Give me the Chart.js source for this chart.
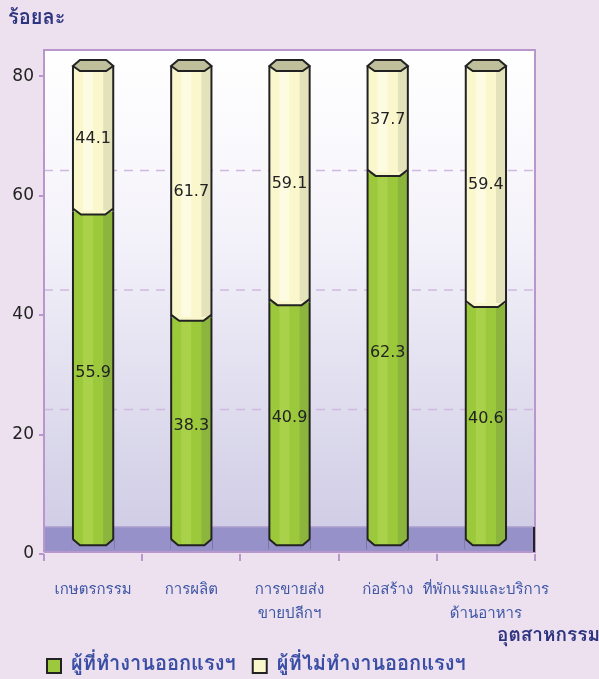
<!DOCTYPE html>
<html>
<head>
<meta charset="utf-8">
<script src="https://cdn.jsdelivr.net/npm/chart.js@4.4.1/dist/chart.umd.min.js"></script>
<style>
  html, body { margin: 0; padding: 0; background: #ede1ef; }
  #wrap { width: 599px; height: 679px; }
</style>
</head>
<body>
<div id="wrap"><canvas id="chart" width="599" height="679"></canvas></div>
<script>
// data (percent)
const categories = [
  "เกษตรกรรม",
  "การผลิต",
  ["การขายส่ง", "ขายปลีกฯ"],
  "ก่อสร้าง",
  ["ที่พักแรมและบริการ", "ด้านอาหาร"]
];
const workHard = [55.9, 38.3, 40.9, 62.3, 40.6];
const notWorkHard = [44.1, 61.7, 59.1, 37.7, 59.4];
const seriesNames = ["ผู้ที่ทำงานออกแรงฯ", "ผู้ที่ไม่ทำงานออกแรงฯ"];
const yTicks = [0, 20, 40, 60, 80];

const thaiFont = 'Tahoma, Loma, Garuda, Waree, "Noto Sans Thai Looped", "Noto Sans Thai", "Noto Sans", sans-serif';
const numFont = '"DejaVu Sans", Verdana, sans-serif';
const purple = "#b898cc";

// back wall, floor, dashed grid
const backdrop = {
  id: "backdrop",
  afterLayout(chart) {
    chart.legend.left += 22;
    chart.legend.right += 22;
    chart.legend.top += 9;
    chart.legend.bottom += 9;
  },
  beforeDraw(chart) {
    const { ctx, chartArea: a, scales } = chart;
    ctx.save();
    ctx.fillStyle = "#ede1ef";
    ctx.fillRect(0, 0, chart.width, chart.height);
    const top = 50, bottom = 552;
    const g = ctx.createLinearGradient(0, top, 0, bottom);
    g.addColorStop(0, "#ffffff");
    g.addColorStop(0.35, "#f5f3fa");
    g.addColorStop(1, "#cdcae4");
    ctx.fillStyle = g;
    ctx.fillRect(a.left, top, a.right - a.left, bottom - top);
    // floor
    ctx.fillStyle = "#9692c9";
    ctx.fillRect(a.left, 527, a.right - a.left, bottom - 527);
    ctx.strokeStyle = "#ab9ccd";
    ctx.lineWidth = 1.5;
    ctx.beginPath();
    ctx.moveTo(a.left, 527); ctx.lineTo(a.right, 527);
    ctx.stroke();
    // dashed gridlines on the back wall
    ctx.strokeStyle = "#cfb9df";
    ctx.lineWidth = 1.5;
    ctx.setLineDash([9, 7]);
    yTicks.forEach(v => {
      if (v === 0 || v === 80) return;
      const y = scales.yl.getPixelForValue(v) - 25;
      ctx.beginPath();
      ctx.moveTo(a.left, y); ctx.lineTo(a.right, y);
      ctx.stroke();
    });
    ctx.setLineDash([]);
    // frame
    ctx.strokeStyle = purple;
    ctx.lineWidth = 2;
    ctx.beginPath();
    ctx.moveTo(a.left, bottom);
    ctx.lineTo(a.left, top);
    ctx.lineTo(a.right, top);
    ctx.lineTo(a.right, bottom);
    ctx.lineTo(a.left, bottom);
    ctx.stroke();
    ctx.strokeStyle = "#222";
    ctx.beginPath();
    ctx.moveTo(a.right - 1, 527); ctx.lineTo(a.right - 1, bottom);
    ctx.stroke();
    ctx.restore();
  }
};

// cylinder shading, caps and value labels
const cylinders = {
  id: "cylinders",
  afterDatasetsDraw(chart) {
    const { ctx, chartArea: a } = chart;
    const metas = [chart.getDatasetMeta(0), chart.getDatasetMeta(1)];
    const shades = [["#a9d24a", "#8bb53c"], ["#fdfbe2", "#e4e2bb"]];
    ctx.save();
    metas.forEach((meta, di) => {
      meta.data.forEach(el => {
        const p = el.getProps(["x", "y", "base", "width"], true);
        const l = p.x - p.width / 2, r = p.x + p.width / 2;
        const t = Math.max(p.y, a.top), b = Math.min(p.base, a.bottom);
        ctx.fillStyle = shades[di][0];
        ctx.fillRect(l + 10, t, 10, b - t);
        ctx.fillStyle = shades[di][1];
        ctx.fillRect(r - 10, t, 9, b - t);
      });
    });
    metas.forEach((meta, di) => {
      meta.data.forEach(el => {
        const p = el.getProps(["x", "y", "base", "width"], true);
        const l = p.x - p.width / 2, r = p.x + p.width / 2;
        ctx.strokeStyle = "#222";
        ctx.lineWidth = 2;
        ctx.beginPath();
        ctx.moveTo(l, Math.max(p.y, a.top)); ctx.lineTo(l, Math.min(p.base, a.bottom));
        ctx.moveTo(r, Math.max(p.y, a.top)); ctx.lineTo(r, Math.min(p.base, a.bottom));
        ctx.stroke();
        if (di === 0) {
          // bottom chamfer
          const b = p.base - 4;
          ctx.fillStyle = "#9692c9";
          ctx.beginPath();
          ctx.moveTo(l - 1, b - 6); ctx.lineTo(l + 7, b); ctx.lineTo(r - 7, b); ctx.lineTo(r + 1, b - 6);
          ctx.lineTo(r + 1, p.base + 1); ctx.lineTo(l - 1, p.base + 1); ctx.closePath();
          ctx.fill();
          ctx.beginPath();
          ctx.moveTo(l, b - 6); ctx.lineTo(l + 7, b); ctx.lineTo(r - 7, b); ctx.lineTo(r, b - 6);
          ctx.stroke();
          // boundary with the upper segment
          const y = p.y;
          ctx.fillStyle = "#faf7cd";
          ctx.beginPath();
          ctx.moveTo(l + 1, y - 1); ctx.lineTo(r - 1, y - 1); ctx.lineTo(r - 1, y - 3);
          ctx.lineTo(r - 8, y + 3); ctx.lineTo(l + 8, y + 3); ctx.lineTo(l + 1, y - 3);
          ctx.closePath();
          ctx.fill();
          ctx.beginPath();
          ctx.moveTo(l, y - 3); ctx.lineTo(l + 8, y + 3); ctx.lineTo(r - 8, y + 3); ctx.lineTo(r, y - 3);
          ctx.stroke();
        } else {
          // top cap
          const y = Math.max(p.y, a.top);
          ctx.fillStyle = "#bfc09b";
          ctx.beginPath();
          ctx.moveTo(l, y); ctx.lineTo(l + 7, y - 6); ctx.lineTo(r - 7, y - 6); ctx.lineTo(r, y);
          ctx.lineTo(r - 7, y + 5); ctx.lineTo(l + 7, y + 5); ctx.closePath();
          ctx.fill();
          ctx.stroke();
        }
      });
    });
    // value labels in the middle of the visible part
    ctx.font = "16px " + numFont;
    ctx.fillStyle = "#222";
    ctx.textAlign = "center";
    ctx.textBaseline = "middle";
    metas.forEach((meta, di) => {
      const vals = di === 0 ? workHard : notWorkHard;
      meta.data.forEach((el, i) => {
        const p = el.getProps(["x", "y", "base"], true);
        const t = Math.max(p.y, a.top), b = Math.min(p.base, a.bottom);
        ctx.fillText(vals[i].toFixed(1), p.x, (t + b) / 2 - (di === 0 ? 8 : 0));
      });
    });
    // axis title
    ctx.font = "bold 19px " + thaiFont;
    ctx.fillStyle = "#2e3580";
    ctx.textAlign = "left";
    ctx.fillText("อุตสาหกรรม", 497, 637);
    ctx.restore();
  }
};

new Chart(document.getElementById("chart"), {
  type: "bar",
  data: {
    labels: categories,
    datasets: [
      {
        label: seriesNames[0],
        data: workHard,
        backgroundColor: "#9bc93b",
        borderColor: "#222",
        borderWidth: 0,
        yAxisID: "y"
      },
      {
        label: seriesNames[1],
        data: notWorkHard,
        backgroundColor: "#faf7cd",
        borderColor: "#222",
        borderWidth: 0,
        yAxisID: "y"
      }
    ]
  },
  options: {
    responsive: false,
    animation: false,
    layout: { padding: { left: 8, right: 64, top: 0, bottom: 2 } },
    datasets: { bar: { categoryPercentage: 1, barPercentage: 0.41 } },
    scales: {
      x: {
        stacked: true,
        afterFit: s => { s.height = 76; },
        grid: { drawOnChartArea: false, offset: true, tickLength: 7, color: purple, lineWidth: 2 },
        border: { display: false },
        ticks: {
          color: "#3e56a6",
          padding: 18,
          maxRotation: 0,
          autoSkip: false,
          font: { family: thaiFont, size: 15, lineHeight: 1.6 }
        }
      },
      // scale of the bars (front face, base slightly above the axis line)
      y: {
        stacked: true,
        display: false,
        min: -0.8,
        max: 80
      },
      // printed value axis
      yl: {
        position: "left",
        min: 0,
        max: 81.7,
        afterFit: s => { s.width = 36; },
        afterBuildTicks: s => { s.ticks = yTicks.map(v => ({ value: v })); },
        grid: { drawOnChartArea: false, tickLength: 5, color: purple, lineWidth: 2 },
        border: { display: false },
        ticks: {
          color: "#222",
          padding: 5,
          font: { family: numFont, size: 17 }
        }
      }
    },
    plugins: {
      title: {
        display: true,
        text: "ร้อยละ",
        align: "start",
        color: "#2e3580",
        font: { family: thaiFont, size: 20, weight: "bold" },
        padding: { top: 8, bottom: 34 }
      },
      legend: {
        position: "bottom",
        align: "start",
        labels: {
          color: "#3a4ea5",
          boxWidth: 14,
          boxHeight: 14,
          padding: 17,
          font: { family: thaiFont, size: 20, weight: "bold" },
          generateLabels: chart => chart.data.datasets.map((d, i) => ({
            text: d.label,
            fillStyle: d.backgroundColor,
            strokeStyle: "#222",
            lineWidth: 2,
            fontColor: "#3a4ea5",
            datasetIndex: i
          }))
        }
      },
      tooltip: { enabled: false }
    }
  },
  plugins: [backdrop, cylinders]
});
</script>
</body>
</html>
